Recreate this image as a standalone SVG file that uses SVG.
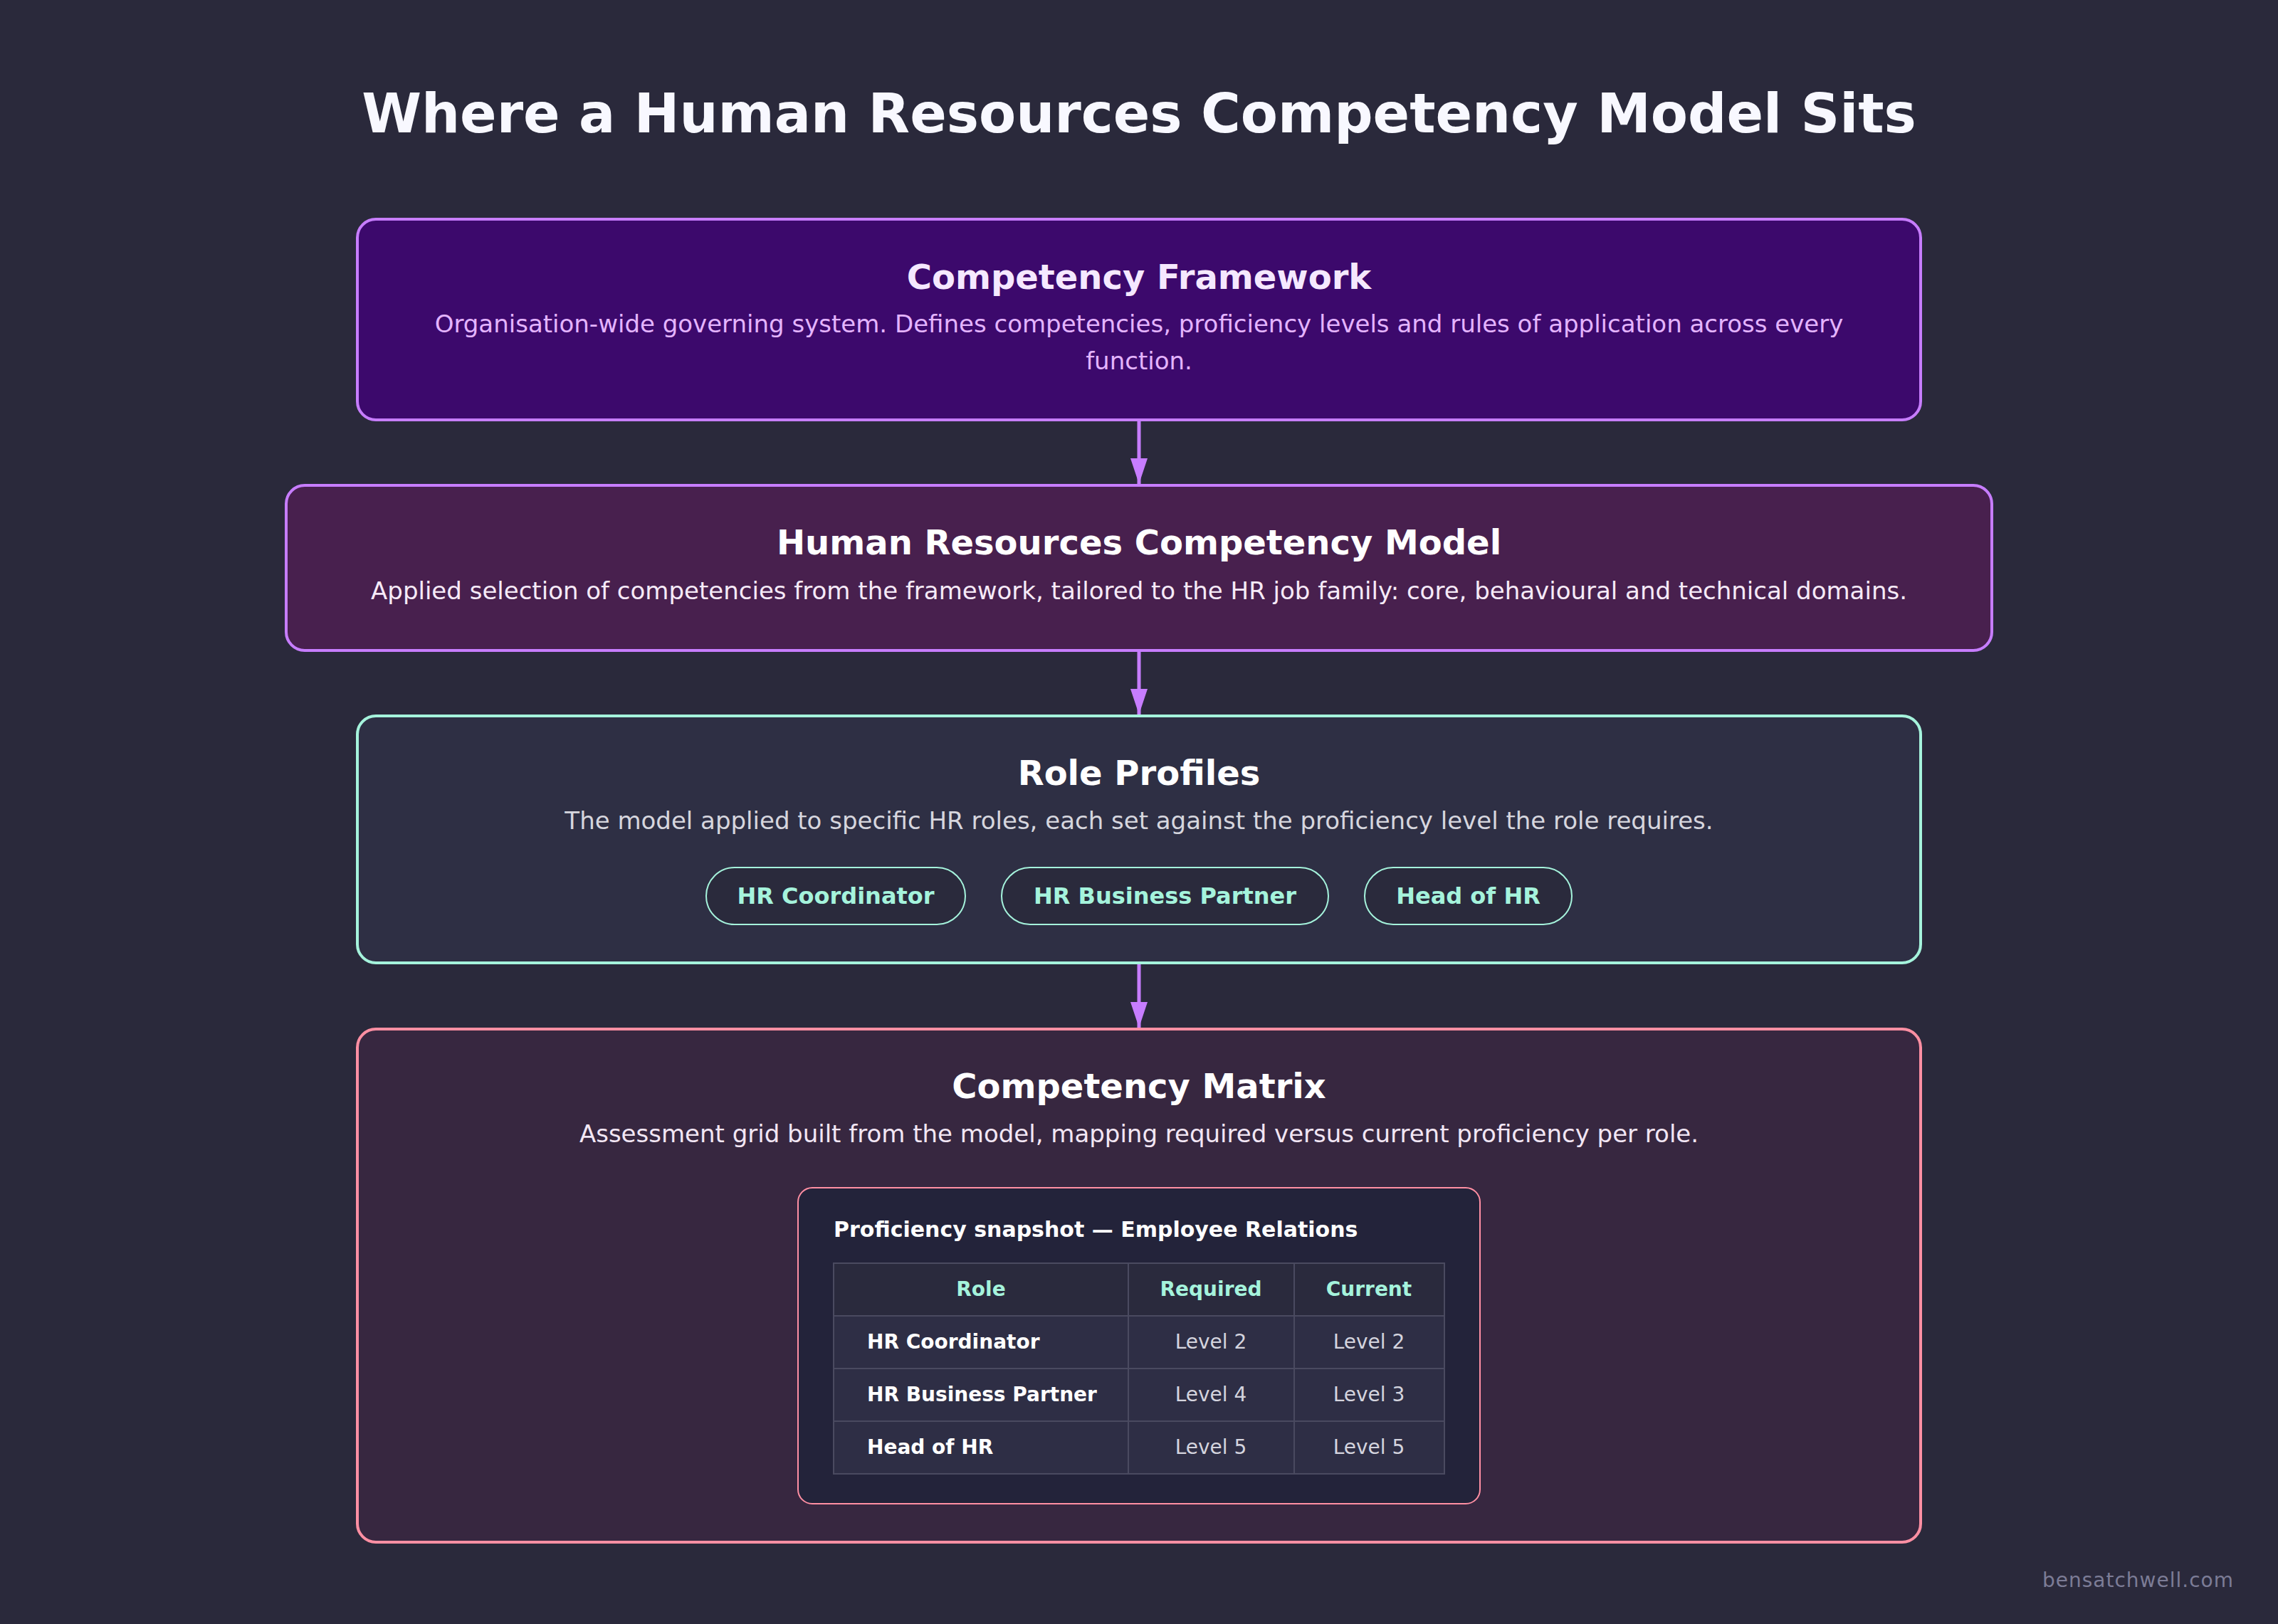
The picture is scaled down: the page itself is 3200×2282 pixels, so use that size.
<svg xmlns="http://www.w3.org/2000/svg" width="3200" height="2282" viewBox="0 0 3200 2282">
<defs>
<style>
text{font-family:"DejaVu Sans","Liberation Sans",sans-serif}
.t{font-weight:bold;font-size:48px;text-anchor:middle}
.d{font-size:34px;text-anchor:middle}
.box{stroke-width:4}
.pill{fill:#2a2a3c;stroke:#a5f3dc;stroke-width:2}
.pt{font-weight:bold;font-size:32px;fill:#a5f3dc;text-anchor:middle}
.th{font-weight:bold;font-size:28px;fill:#a5f3dc;text-anchor:middle}
.tr{font-weight:bold;font-size:28px;fill:#ffffff}
.tv{font-size:28px;fill:#d4d4de;text-anchor:middle}
.cell{stroke:#4a4a60;stroke-width:2}
.conn{stroke:#c77dff;stroke-width:5;fill:none}
</style>
<marker id="ah" markerUnits="userSpaceOnUse" markerWidth="36" markerHeight="24" refX="36" refY="12" orient="auto">
<path d="M0,0 L36,12 L0,24 Z" fill="#c77dff"/>
</marker>
</defs>
<rect width="3200" height="2282" fill="#2a293b"/>
<text x="1600" y="186" font-size="76" font-weight="bold" fill="#f8f8ff" text-anchor="middle">Where a Human Resources Competency Model Sits</text>

<g id="connectors">
<line class="conn" x1="1600" y1="592" x2="1600" y2="680" marker-end="url(#ah)"/>
<line class="conn" x1="1600" y1="916" x2="1600" y2="1004" marker-end="url(#ah)"/>
<line class="conn" x1="1600" y1="1355" x2="1600" y2="1444" marker-end="url(#ah)"/>
</g>

<g id="framework">
<rect class="box" x="502" y="308" width="2196" height="282" rx="26" fill="#3c096c" stroke="#c77dff"/>
<text class="t" x="1600" y="406" fill="#f5e8ff">Competency Framework</text>
<text class="d" x="1600" y="467" fill="#e4b4ff">Organisation-wide governing system. Defines competencies, proficiency levels and rules of application across every</text>
<text class="d" x="1600" y="519" fill="#e4b4ff">function.</text>
</g>

<g id="hr-model">
<rect class="box" x="402" y="682" width="2396" height="232" rx="26" fill="#48204e" stroke="#c77dff"/>
<text class="t" x="1600" y="779" fill="#ffffff">Human Resources Competency Model</text>
<text class="d" x="1600" y="842" fill="#f6eaf8">Applied selection of competencies from the framework, tailored to the HR job family: core, behavioural and technical domains.</text>
</g>

<g id="role-profiles">
<rect class="box" x="502" y="1006" width="2196" height="347" rx="26" fill="#2e2f44" stroke="#a5f3dc"/>
<text class="t" x="1600" y="1103" fill="#ffffff">Role Profiles</text>
<text class="d" x="1600" y="1165" fill="#d6d6de">The model applied to specific HR roles, each set against the proficiency level the role requires.</text>
<g id="pill-coordinator">
<rect class="pill" x="992" y="1219" width="364" height="80" rx="40"/>
<text class="pt" x="1174" y="1270">HR Coordinator</text>
</g>
<g id="pill-hrbp">
<rect class="pill" x="1407" y="1219" width="459" height="80" rx="40"/>
<text class="pt" x="1636.5" y="1270">HR Business Partner</text>
</g>
<g id="pill-head">
<rect class="pill" x="1917" y="1219" width="291" height="80" rx="40"/>
<text class="pt" x="2062.5" y="1270">Head of HR</text>
</g>
</g>

<g id="competency-matrix">
<rect class="box" x="502" y="1446" width="2196" height="721" rx="26" fill="#372740" stroke="#ff8fa3"/>
<text class="t" x="1600" y="1543" fill="#ffffff">Competency Matrix</text>
<text class="d" x="1600" y="1605" fill="#f2e6f4">Assessment grid built from the model, mapping required versus current proficiency per role.</text>
<g id="snapshot">
<rect x="1121" y="1669" width="958" height="444" rx="20" fill="#23233a" stroke="#ff8fa3" stroke-width="2"/>
<text x="1171" y="1738" font-size="30" font-weight="bold" fill="#ffffff">Proficiency snapshot — Employee Relations</text>
<rect class="cell" x="1171" y="1775" width="414" height="74" fill="#2a2a3d"/>
<rect class="cell" x="1585" y="1775" width="233" height="74" fill="#2a2a3d"/>
<rect class="cell" x="1818" y="1775" width="211" height="74" fill="#2a2a3d"/>
<rect class="cell" x="1171" y="1849" width="414" height="74" fill="#2e2e45"/>
<rect class="cell" x="1585" y="1849" width="233" height="74" fill="#2e2e45"/>
<rect class="cell" x="1818" y="1849" width="211" height="74" fill="#2e2e45"/>
<rect class="cell" x="1171" y="1923" width="414" height="74" fill="#2e2e45"/>
<rect class="cell" x="1585" y="1923" width="233" height="74" fill="#2e2e45"/>
<rect class="cell" x="1818" y="1923" width="211" height="74" fill="#2e2e45"/>
<rect class="cell" x="1171" y="1997" width="414" height="74" fill="#2e2e45"/>
<rect class="cell" x="1585" y="1997" width="233" height="74" fill="#2e2e45"/>
<rect class="cell" x="1818" y="1997" width="211" height="74" fill="#2e2e45"/>
<text class="th" x="1378" y="1821">Role</text>
<text class="th" x="1701" y="1821">Required</text>
<text class="th" x="1923" y="1821">Current</text>
<text class="tr" x="1218" y="1895">HR Coordinator</text>
<text class="tv" x="1701" y="1895">Level 2</text>
<text class="tv" x="1923" y="1895">Level 2</text>
<text class="tr" x="1218" y="1969">HR Business Partner</text>
<text class="tv" x="1701" y="1969">Level 4</text>
<text class="tv" x="1923" y="1969">Level 3</text>
<text class="tr" x="1218" y="2043">Head of HR</text>
<text class="tv" x="1701" y="2043">Level 5</text>
<text class="tv" x="1923" y="2043">Level 5</text>
</g>
</g>

<text x="3138" y="2230" font-size="28" letter-spacing="1" fill="#7c7c96" text-anchor="end">bensatchwell.com</text>
</svg>
